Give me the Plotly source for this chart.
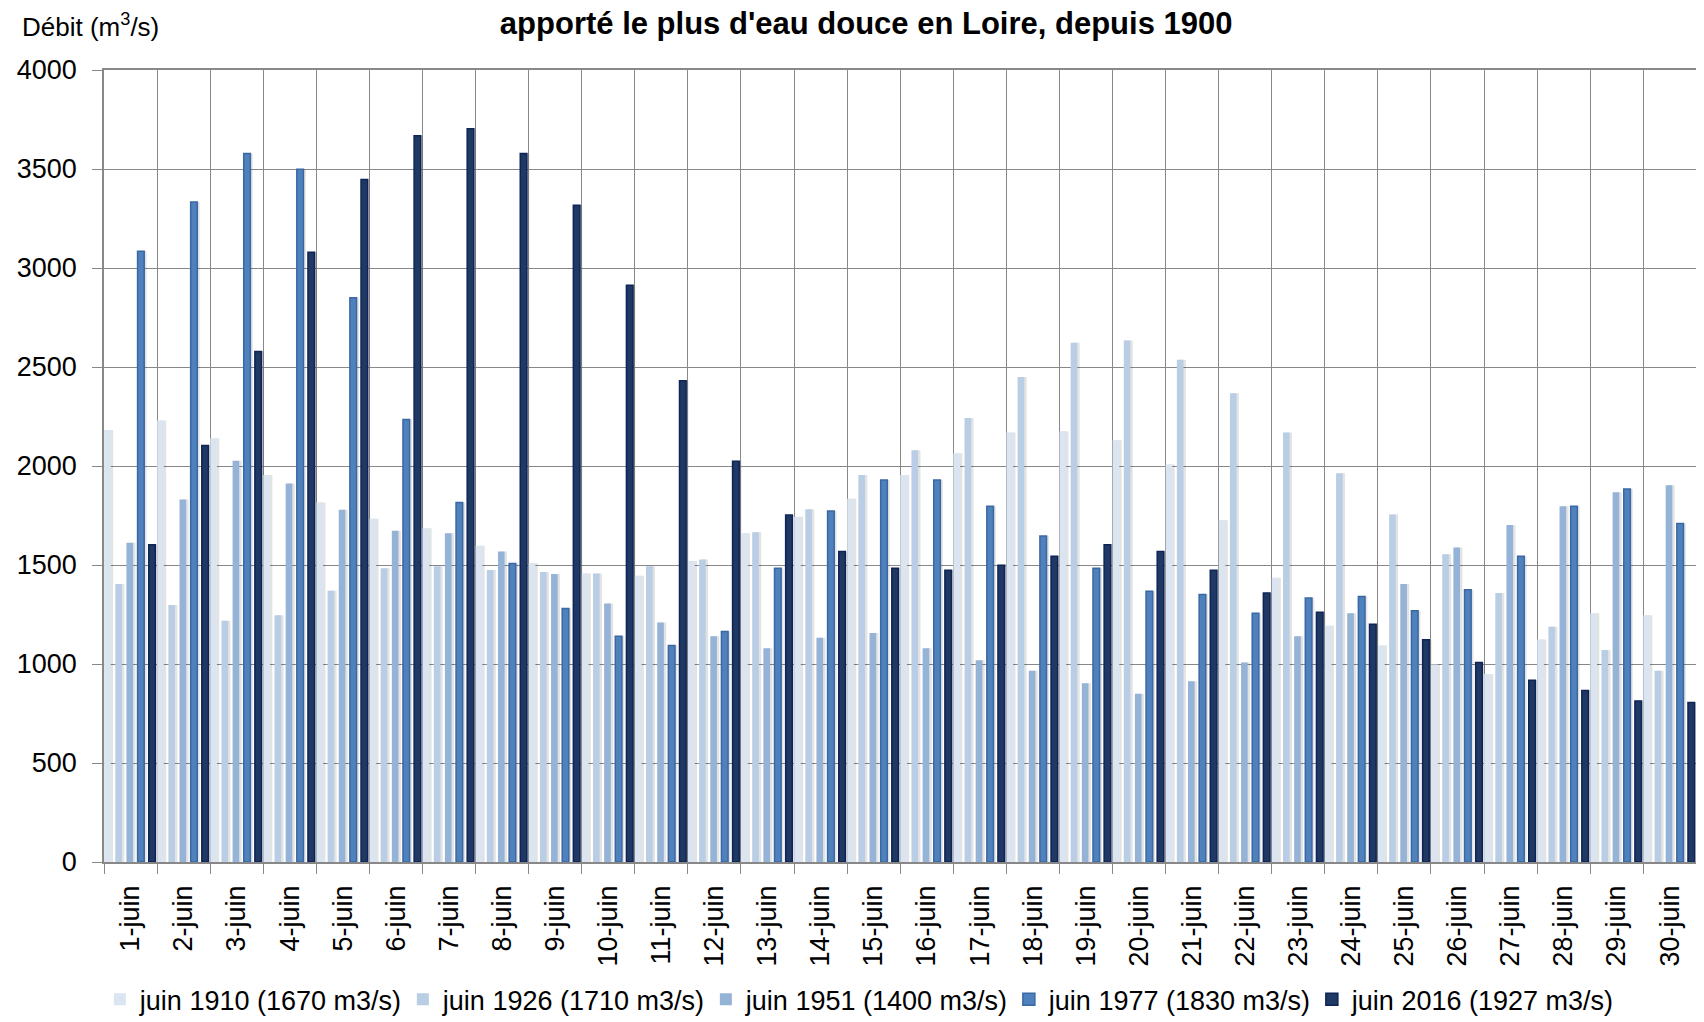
import plotly.graph_objects as go

days = ["1-juin", "2-juin", "3-juin", "4-juin", "5-juin", "6-juin", "7-juin", "8-juin", "9-juin", "10-juin",
        "11-juin", "12-juin", "13-juin", "14-juin", "15-juin", "16-juin", "17-juin", "18-juin", "19-juin", "20-juin",
        "21-juin", "22-juin", "23-juin", "24-juin", "25-juin", "26-juin", "27-juin", "28-juin", "29-juin", "30-juin"]

y1910 = [2182, 2230, 2140, 1955, 1816, 1734, 1686, 1597, 1510, 1457, 1446, 1520, 1660, 1744, 1834,
         1955, 2064, 2169, 2175, 2130, 2008, 1726, 1436, 1193, 1093, 998, 950, 1124, 1256, 1246]
y1926 = [1404, 1298, 1219, 1246, 1370, 1483, 1494, 1475, 1465, 1457, 1494, 1528, 1665, 1781, 1955,
         2080, 2243, 2449, 2623, 2634, 2536, 2367, 2169, 1963, 1755, 1554, 1359, 1188, 1071, 966]
y1951 = [1612, 1831, 2027, 1911, 1779, 1673, 1660, 1568, 1454, 1306, 1209, 1140, 1079, 1132, 1156,
         1079, 1019, 966, 903, 850, 913, 1008, 1140, 1256, 1404, 1589, 1702, 1797, 1868, 1903]
y1977 = [3085, 3333, 3578, 3499, 2850, 2235, 1816, 1507, 1280, 1140, 1093, 1164, 1483, 1773, 1929,
         1929, 1797, 1647, 1483, 1367, 1351, 1256, 1333, 1341, 1269, 1375, 1544, 1797, 1884, 1710]
y2016 = [1602, 2103, 2578, 3080, 3447, 3668, 3703, 3578, 3317, 2913, 2431, 2024, 1752, 1568, 1483,
         1473, 1499, 1544, 1602, 1568, 1473, 1359, 1261, 1201, 1122, 1008, 918, 866, 813, 805]

series_names = ["juin 1910 (1670 m3/s)", "juin 1926 (1710 m3/s)", "juin 1951 (1400 m3/s)",
                "juin 1977 (1830 m3/s)", "juin 2016 (1927 m3/s)"]
series_values = [y1910, y1926, y1951, y1977, y2016]
fills = ["#dbe5f1", "#b9cde5", "#95b3d7", "#4f81bd", "#1f3864"]
lines = ["#dbe5f1", "#b9cde5", "#95b3d7", "#3b68a3", "#0f2454"]
line_w = [0, 0, 0, 1.5, 1.5]

FONT = "Liberation Sans, Arial, sans-serif"
FS = 27
GRID = "#888888"
BW = 0.125
centers = [-0.435 + 0.21 * i for i in range(5)]

fig = go.Figure()
# soft shadows to the right of each bar
for vals, c in zip(series_values, centers):
    fig.add_trace(go.Bar(x=days, y=vals, width=BW, offset=c - BW / 2 + 0.045,
                         marker=dict(color="rgba(0,0,0,0.11)", line=dict(width=0)),
                         showlegend=False, hoverinfo="skip"))
for name, vals, fc, lc, lw, c in zip(series_names, series_values, fills, lines, line_w, centers):
    fig.add_trace(go.Bar(x=days, y=vals, name=name, width=BW, offset=c - BW / 2,
                         marker=dict(color=fc, line=dict(color=lc, width=lw))))

fig.update_layout(
    width=1696, height=1014,
    barmode="overlay",
    paper_bgcolor="white", plot_bgcolor="white",
    margin=dict(l=96, r=7, t=62, b=160, autoexpand=False),
    font=dict(family=FONT, size=FS, color="black"),
    title=dict(text="<b>apporté le plus d'eau douce en Loire, depuis 1900</b>",
               x=0.506, xanchor="center", y=0.985, yanchor="middle",
               font=dict(family=FONT, size=31, color="black")),
    legend=dict(orientation="h", x=-0.0026, xanchor="left", y=-0.174, yanchor="middle",
                entrywidth=258, entrywidthmode="pixels", itemwidth=30,
                font=dict(family=FONT, size=FS), traceorder="normal", itemclick=False),
    xaxis=dict(type="category", tickson="boundaries", tickangle=-90, automargin=False,
               showgrid=True, gridcolor=GRID, gridwidth=1.3,
               showline=True, linecolor=GRID, linewidth=1.5, mirror=True,
               ticks="outside", ticklen=10, tickcolor=GRID,
               ticklabelstandoff=11,
               tickfont=dict(family=FONT, size=FS)),
    yaxis=dict(range=[0, 4000], dtick=500, tick0=0, automargin=False,
               showgrid=True, gridcolor=GRID, gridwidth=1.3,
               showline=True, linecolor=GRID, linewidth=1.5, mirror=True,
               ticks="outside", ticklen=10, tickcolor=GRID,
               ticklabelstandoff=10, zeroline=False,
               tickfont=dict(family=FONT, size=FS)),
    annotations=[dict(text="Débit (m<sup>3</sup>/s)", xref="paper", yref="paper",
                      x=-0.0527, xanchor="left", y=1.056, yanchor="middle",
                      showarrow=False, font=dict(family=FONT, size=26))],
)

fig.write_html("out.html")
